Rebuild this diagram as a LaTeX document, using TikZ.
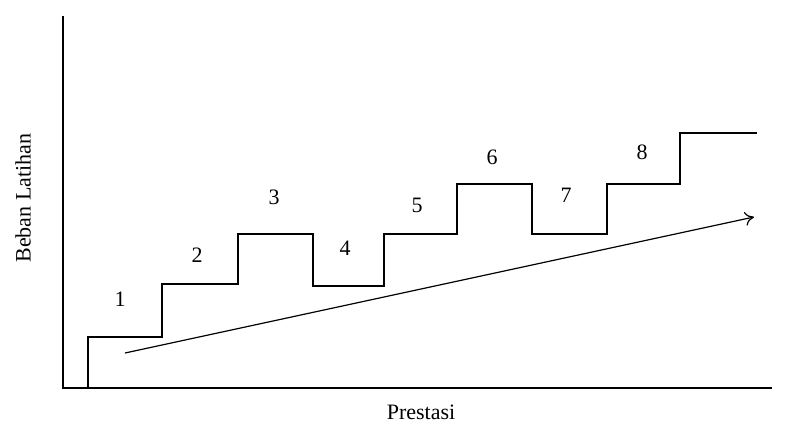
\documentclass[tikz,border=0pt]{standalone}
\usepackage{fontspec}
\setmainfont{Liberation Serif}
\usetikzlibrary{arrows.meta}
\begin{document}
\begin{tikzpicture}[x=1pt,y=-1pt,
  axis/.style={line width=2.8pt},
  stairs/.style={line width=1.6pt, line join=miter},
  trend/.style={line width=1.2pt, -{To[length=9pt,width=14pt,line width=1.2pt]}},
  lbl/.style={font=\fontsize{22}{26}\selectfont, inner sep=0pt},
  num/.style={font=\fontsize{22}{26}\selectfont, inner sep=0pt}]
\useasboundingbox (0,0) rectangle (788,424);
% axes
\coordinate (ytop) at (63,16);
\coordinate (origin) at (63,388);
\coordinate (xend) at (772,388);
\draw[axis] (ytop) -- (origin) -- (xend);
% staircase of training load
\coordinate (s0) at (88,388);
\coordinate (s1) at (88,337);
\coordinate (s2) at (162,337);
\coordinate (s3) at (162,284);
\coordinate (s4) at (238,284);
\coordinate (s5) at (238,234);
\coordinate (s6) at (313,234);
\coordinate (s7) at (313,286);
\coordinate (s8) at (384,286);
\coordinate (s9) at (384,234);
\coordinate (s10) at (457,234);
\coordinate (s11) at (457,184);
\coordinate (s12) at (532,184);
\coordinate (s13) at (532,234);
\coordinate (s14) at (607,234);
\coordinate (s15) at (607,184);
\coordinate (s16) at (680,184);
\coordinate (s17) at (680,133);
\coordinate (s18) at (757,133);
\draw[stairs] (s0) -- (s1) -- (s2) -- (s3) -- (s4) -- (s5) -- (s6) -- (s7) -- (s8)
  -- (s9) -- (s10) -- (s11) -- (s12) -- (s13) -- (s14) -- (s15) -- (s16) -- (s17) -- (s18);
% step numbers
\node[num] (n1) at (120,299) {1};
\node[num] (n2) at (197,255) {2};
\node[num] (n3) at (274,197) {3};
\node[num] (n4) at (345,248) {4};
\node[num] (n5) at (417,205) {5};
\node[num] (n6) at (492,157) {6};
\node[num] (n7) at (566,195) {7};
\node[num] (n8) at (642,152) {8};
% performance trend
\coordinate (tstart) at (125,353);
\coordinate (tend) at (754,217);
\draw[trend] (tstart) -- (tend);
% axis labels
\node[lbl, rotate=90] (ylab) at (23,198) {Beban Latihan};
\node[lbl] (xlab) at (421,412) {Prestasi};
\end{tikzpicture}
\end{document}
